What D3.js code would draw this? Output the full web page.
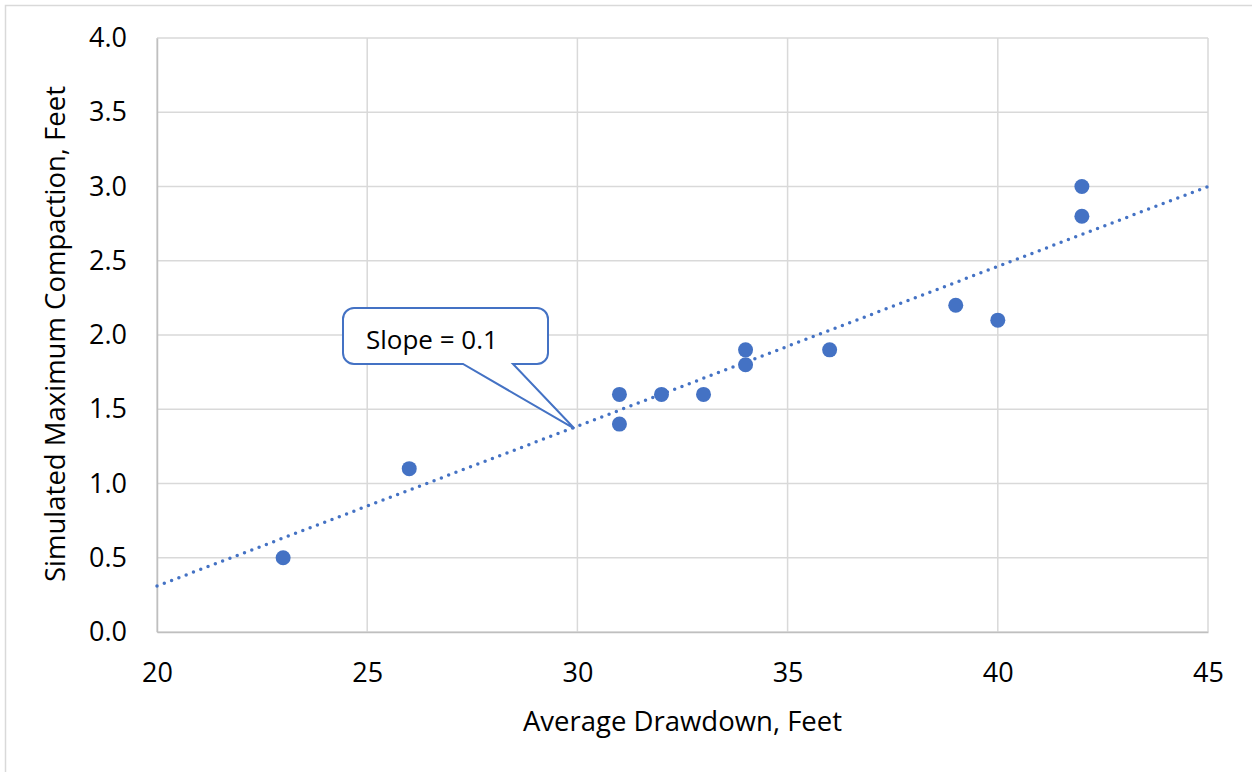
<!DOCTYPE html>
<html><head><meta charset="utf-8">
<script src="https://cdn.jsdelivr.net/npm/d3@7"></script>
<style>
html,body{margin:0;padding:0;background:#fff;}
text{font-family:"Open Sans","Noto Sans",sans-serif;fill:#000;}
</style></head>
<body><svg id="c" width="1252" height="772"></svg>
<script>
const xVals = [23, 26, 31, 31, 32, 33, 34, 34, 36, 39, 40, 42, 42];
const yVals = [0.5, 1.1, 1.6, 1.4, 1.6, 1.6, 1.9, 1.8, 1.9, 2.2, 2.1, 3.0, 2.8];
const xTicks = [20, 25, 30, 35, 40, 45];
const yTicks = [0.0, 0.5, 1.0, 1.5, 2.0, 2.5, 3.0, 3.5, 4.0];
const trendX = [20, 45];
const trendY = [0.31, 3.0];
const calloutText = "Slope = 0.1";
const calloutTip = [30, 1.37];
const xTitle = "Average Drawdown, Feet";
const yTitle = "Simulated Maximum Compaction, Feet";

const svg = d3.select("#c");
const L = 157, R = 1208, T = 38, B = 632;
const x = d3.scaleLinear().domain([20, 45]).range([L, R]);
const y = d3.scaleLinear().domain([0, 4]).range([B, T]);
const blue = "#4472C4";

// outer border
svg.append("rect").attr("x", 5.5).attr("y", 5.5).attr("width", 1300).attr("height", 800)
  .attr("fill", "none").attr("stroke", "#d9d9d9").attr("stroke-width", 1.5);

// grid
svg.append("g").selectAll("line").data(yTicks).join("line")
  .attr("x1", L).attr("x2", R).attr("y1", d => y(d)).attr("y2", d => y(d))
  .attr("stroke", "#d9d9d9").attr("stroke-width", 1.5);
svg.append("g").selectAll("line").data(xTicks).join("line")
  .attr("y1", T).attr("y2", B).attr("x1", d => x(d)).attr("x2", d => x(d))
  .attr("stroke", "#d9d9d9").attr("stroke-width", 1.5);

// axes via d3
const xAxis = svg.append("g").attr("transform", `translate(0,${B})`)
  .call(d3.axisBottom(x).tickValues(xTicks).tickSize(0).tickPadding(31).tickFormat(d3.format("d")));
xAxis.select(".domain").attr("stroke", "#bfbfbf").attr("stroke-width", 1.5);
xAxis.selectAll("text").attr("font-size", 27).attr("font-family", '"Open Sans",sans-serif').attr("fill", "#000");

const yAxis = svg.append("g").attr("transform", `translate(${L},0)`)
  .call(d3.axisLeft(y).tickValues(yTicks).tickSize(0).tickPadding(30).tickFormat(d3.format(".1f")));
yAxis.select(".domain").attr("stroke", "#bfbfbf").attr("stroke-width", 1.5);
yAxis.selectAll("text").attr("font-size", 27).attr("font-family", '"Open Sans",sans-serif').attr("fill", "#000");

// trend line
svg.append("path")
  .attr("d", d3.line().x(d => x(d[0])).y(d => y(d[1]))(trendX.map((v, i) => [v, trendY[i]])))
  .attr("fill", "none").attr("stroke", blue).attr("stroke-width", 3.5)
  .attr("stroke-linecap", "round").attr("stroke-dasharray", "0,7.8");

// points
svg.append("g").selectAll("circle").data(xVals.map((v, i) => [v, yVals[i]])).join("circle")
  .attr("cx", d => x(d[0])).attr("cy", d => y(d[1])).attr("r", 7.5).attr("fill", blue);

// callout
const bx0 = 343, bx1 = 548, by0 = 308, by1 = 364, rr = 11;
const tx = x(calloutTip[0]) - 3, ty = y(calloutTip[1]);
const p = d3.path();
p.moveTo(bx0 + rr, by0);
p.lineTo(bx1 - rr, by0);
p.arcTo(bx1, by0, bx1, by0 + rr, rr);
p.lineTo(bx1, by1 - rr);
p.arcTo(bx1, by1, bx1 - rr, by1, rr);
p.lineTo(513, by1);
p.lineTo(tx, ty);
p.lineTo(463, by1);
p.lineTo(bx0 + rr, by1);
p.arcTo(bx0, by1, bx0, by1 - rr, rr);
p.lineTo(bx0, by0 + rr);
p.arcTo(bx0, by0, bx0 + rr, by0, rr);
p.closePath();
svg.append("path").attr("d", p.toString()).attr("fill", "#fff").attr("stroke", blue).attr("stroke-width", 2);
svg.append("text").attr("x", 366).attr("y", 349).attr("font-size", 26).text(calloutText);

// titles
svg.append("text").attr("x", (L + R) / 2).attr("y", 731).attr("text-anchor", "middle")
  .attr("font-size", 27.5).text(xTitle);
svg.append("text").attr("transform", `translate(65,${334}) rotate(-90)`)
  .attr("text-anchor", "middle").attr("font-size", 27.5).text(yTitle);
</script></body></html>
